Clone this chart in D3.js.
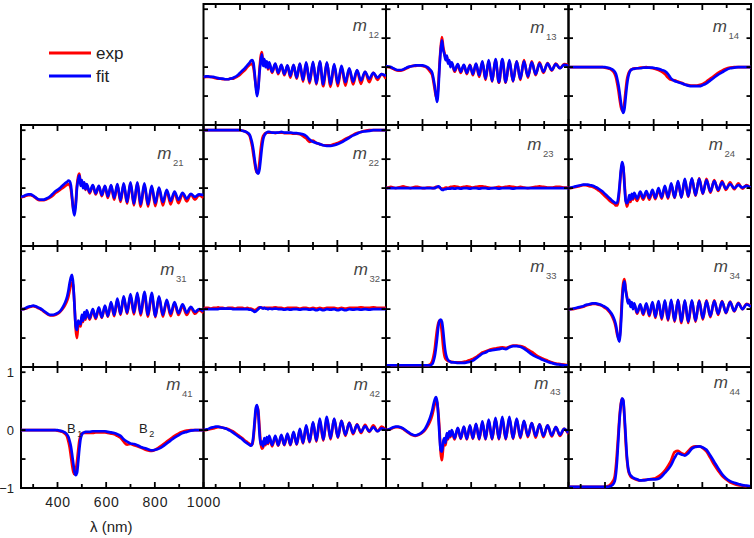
<!DOCTYPE html>
<html><head><meta charset="utf-8">
<script src="https://cdn.jsdelivr.net/npm/d3@7"></script>
<style>html,body{margin:0;padding:0;background:#fff;}svg{display:block;}</style>
</head><body>
<svg id="chart" width="754" height="538"></svg>
<script>
// ---------------- DATA ----------------
const wavelength = [250,260,270,280,290,300,310,320,330,340,350,360,370,380,390,400,410,420,430,440,
  445,450,455,460,465,470,475,480,485,490,495,500,505,510,515,520,
  532,545,557,570,582,595,607,620,633,646,659,672,686,700,714,728,742,757,772,787,802,817,833,849,865,881,897,914,931,948,965,982,1000];

const panelNames = ["12","13","14","21","22","23","24","31","32","33","34","41","42","43","44"];
const xTickMajor = [400,600,800,1000];
const xTickMinor = [300,500,700,900];
const yTickValues = [-1,-0.5,0,0.5,1];
const xTickLabels = [400,600,800,1000];
const yTickLabels = [-1,0,1];
const legendLabels = ["exp","fit"];

const m12Fit = [-0.17,-0.16,-0.16,-0.17,-0.17,-0.18,-0.19,-0.2,-0.2,-0.21,-0.21,-0.2,-0.19,-0.17,-0.14,-0.1,-0.06,-0.02,0.03,0.08,
  0.11,0.12,0.08,-0.1,-0.35,-0.5,-0.38,-0.1,0.1,0.22,0.02,0.14,0.0,0.1,-0.02,0.08,
  -0.08,0.06,-0.1,0.04,-0.12,0.03,-0.15,0.04,-0.18,0.06,-0.22,0.08,-0.25,0.09,-0.28,0.1,-0.3,0.08,-0.3,0.05,-0.28,0.02,-0.26,-0.02,-0.25,-0.05,-0.23,-0.08,-0.2,-0.1,-0.18,-0.12,-0.15];
const m12Exp = [-0.18,-0.17,-0.17,-0.17,-0.18,-0.19,-0.2,-0.2,-0.21,-0.21,-0.21,-0.2,-0.2,-0.18,-0.16,-0.13,-0.09,-0.05,0.0,0.04,
  0.06,0.05,0.0,-0.15,-0.32,-0.42,-0.35,-0.05,0.18,0.26,0.08,0.12,0.02,0.08,-0.04,0.06,
  -0.1,0.05,-0.12,0.03,-0.14,0.02,-0.18,0.03,-0.2,0.05,-0.25,0.06,-0.28,0.07,-0.3,0.08,-0.33,0.06,-0.34,0.03,-0.33,0.0,-0.32,-0.04,-0.3,-0.06,-0.29,-0.08,-0.26,-0.1,-0.22,-0.12,-0.2];

const m13Fit = [0.02,0.01,0.0,-0.02,-0.04,-0.05,-0.05,-0.04,-0.02,0.0,0.01,0.02,0.03,0.03,0.03,0.03,0.02,0.0,-0.04,-0.1,
  -0.2,-0.32,-0.48,-0.6,-0.4,0.0,0.3,0.46,0.3,0.22,0.12,0.2,0.06,0.12,0.0,0.08,
  -0.06,0.05,-0.08,0.04,-0.1,0.03,-0.12,0.06,-0.14,0.1,-0.2,0.12,-0.24,0.14,-0.26,0.14,-0.26,0.12,-0.24,0.1,-0.2,0.1,-0.16,0.08,-0.12,0.06,-0.08,0.06,-0.05,0.05,-0.02,0.04,0.02];
const m13Exp = [0.01,0.0,-0.01,-0.03,-0.05,-0.06,-0.06,-0.05,-0.03,-0.01,0.01,0.02,0.02,0.03,0.03,0.02,0.01,-0.02,-0.07,-0.14,
  -0.25,-0.38,-0.5,-0.52,-0.3,0.05,0.35,0.52,0.35,0.25,0.15,0.18,0.08,0.1,0.02,0.06,
  -0.08,0.04,-0.1,0.03,-0.12,0.04,-0.14,0.05,-0.17,0.08,-0.22,0.1,-0.25,0.12,-0.27,0.12,-0.27,0.1,-0.25,0.1,-0.22,0.12,-0.18,0.1,-0.14,0.08,-0.1,0.07,-0.06,0.06,-0.02,0.05,0.03];

const m14Fit = [0,0,0,0,0,0,0,0,0,0,0,0,0,0,0,0,-0.01,-0.02,-0.04,-0.08,
  -0.12,-0.2,-0.3,-0.44,-0.6,-0.72,-0.79,-0.72,-0.52,-0.32,-0.18,-0.1,-0.06,-0.04,-0.03,-0.03,
  -0.02,-0.02,-0.01,-0.01,-0.01,-0.01,-0.02,-0.03,-0.05,-0.07,-0.12,-0.2,-0.24,-0.26,-0.28,-0.3,-0.32,-0.33,-0.33,-0.33,-0.31,-0.28,-0.23,-0.18,-0.13,-0.09,-0.05,-0.02,-0.01,0,0,0,0];
const m14Exp = [0,0,0,0,0,0,0,0,0,0,0,0,0,0,0,-0.01,-0.02,-0.03,-0.06,-0.12,
  -0.18,-0.28,-0.4,-0.55,-0.68,-0.75,-0.74,-0.6,-0.4,-0.22,-0.13,-0.08,-0.05,-0.04,-0.03,-0.02,
  -0.02,-0.01,-0.01,0,-0.01,-0.02,-0.03,-0.05,-0.08,-0.12,-0.18,-0.22,-0.23,-0.25,-0.27,-0.3,-0.31,-0.32,-0.32,-0.31,-0.29,-0.25,-0.2,-0.15,-0.1,-0.06,-0.03,-0.01,0,0,0,0,0];

const m21Fit = [-0.15,-0.14,-0.12,-0.11,-0.11,-0.13,-0.16,-0.19,-0.2,-0.2,-0.19,-0.17,-0.14,-0.1,-0.06,-0.03,0.0,0.04,0.08,0.11,
  0.13,0.12,0.05,-0.15,-0.38,-0.47,-0.3,0.0,0.15,0.22,0.04,0.14,0.0,0.1,-0.02,0.07,
  -0.07,0.05,-0.09,0.04,-0.12,0.04,-0.14,0.05,-0.17,0.07,-0.21,0.08,-0.24,0.1,-0.27,0.1,-0.28,0.08,-0.28,0.04,-0.26,0.01,-0.24,-0.03,-0.22,-0.06,-0.2,-0.08,-0.18,-0.1,-0.15,-0.11,-0.12];
const m21Exp = [-0.16,-0.15,-0.13,-0.12,-0.12,-0.14,-0.17,-0.2,-0.21,-0.21,-0.2,-0.18,-0.16,-0.13,-0.09,-0.06,-0.03,0.0,0.03,0.06,
  0.07,0.05,-0.02,-0.2,-0.36,-0.4,-0.25,0.05,0.2,0.25,0.08,0.12,0.02,0.08,-0.03,0.05,
  -0.09,0.04,-0.11,0.03,-0.14,0.03,-0.17,0.04,-0.2,0.05,-0.24,0.06,-0.27,0.08,-0.3,0.08,-0.32,0.06,-0.32,0.02,-0.31,-0.01,-0.3,-0.05,-0.28,-0.08,-0.26,-0.1,-0.23,-0.11,-0.2,-0.12,-0.17];

const m22Fit = [1,1,1,1,1,1,1,1,1,1,1,1,1,1,1,1,0.99,0.98,0.96,0.92,
  0.86,0.78,0.66,0.5,0.36,0.27,0.25,0.32,0.5,0.7,0.84,0.91,0.94,0.96,0.97,0.97,
  0.96,0.96,0.96,0.97,0.96,0.96,0.96,0.95,0.95,0.94,0.93,0.9,0.84,0.8,0.78,0.76,0.74,0.73,0.73,0.74,0.76,0.79,0.83,0.87,0.91,0.94,0.97,0.98,0.99,1,1,1,1];
const m22Exp = [1,1,1,1,1,1,1,1,1,1,1,1,1,1,1,1,0.99,0.98,0.95,0.9,
  0.82,0.72,0.58,0.44,0.32,0.27,0.3,0.45,0.66,0.82,0.9,0.93,0.95,0.96,0.96,0.96,
  0.96,0.95,0.96,0.96,0.95,0.95,0.95,0.94,0.94,0.93,0.9,0.86,0.8,0.82,0.78,0.76,0.74,0.74,0.74,0.76,0.78,0.81,0.85,0.88,0.92,0.95,0.97,0.99,1,1,1,1,1];

const m23Fit = [0,0,0,0,0,0,0,0,0,0,0,0,0,0,0,0,0,0,0,0,
  0,0,0.01,0.02,0.03,0.02,-0.01,-0.03,-0.03,-0.02,-0.02,-0.01,-0.01,-0.01,-0.01,0,
  -0.01,0,-0.01,0,0,-0.01,0,0,-0.01,0,0,-0.01,0,0,-0.01,0,0,0,-0.01,0,0,0,0,0,0,0,0,0,0,0,0,0,0];
const m23Exp = [0,0.01,0.02,0.01,0,0.01,0.02,0.03,0.02,0.01,0,0.01,0.02,0.02,0.01,0,0,0.01,0.01,0,
  0,0.01,0.02,0.02,0.02,0.01,0,-0.01,-0.01,0,0.01,0.01,0,0.01,0.02,0.02,
  0.03,0.02,0.01,0.02,0.03,0.02,0.01,0.02,0.03,0.03,0.02,0.01,0,0.01,0.02,0.01,0.02,0.03,0.02,0.01,0.02,0.01,0,0.01,0.02,0.03,0.02,0.01,0.01,0.02,0.02,0.01,0.01];

const m24Fit = [0,0.01,0.02,0.03,0.04,0.05,0.06,0.06,0.06,0.05,0.04,0.02,0.0,-0.03,-0.06,-0.1,-0.14,-0.18,-0.22,-0.25,
  -0.26,-0.25,-0.15,0.05,0.3,0.45,0.38,0.05,-0.22,-0.26,-0.22,-0.12,-0.2,-0.1,-0.18,-0.08,
  -0.18,-0.06,-0.17,-0.05,-0.17,-0.03,-0.17,0.0,-0.16,0.04,-0.16,0.08,-0.16,0.12,-0.16,0.16,-0.14,0.17,-0.12,0.16,-0.09,0.14,-0.06,0.12,-0.03,0.1,-0.01,0.07,0.0,0.05,0.01,0.04,0.0];
const m24Exp = [0,0,0.01,0.02,0.03,0.04,0.05,0.05,0.04,0.03,0.02,0,-0.03,-0.06,-0.1,-0.14,-0.18,-0.22,-0.25,-0.28,
  -0.3,-0.3,-0.22,0.0,0.25,0.4,0.36,0.1,-0.2,-0.32,-0.26,-0.18,-0.24,-0.14,-0.2,-0.12,
  -0.22,-0.1,-0.2,-0.08,-0.2,-0.06,-0.19,-0.03,-0.18,0.01,-0.18,0.05,-0.17,0.1,-0.16,0.14,-0.15,0.16,-0.13,0.17,-0.1,0.16,-0.08,0.14,-0.05,0.12,-0.03,0.1,-0.02,0.08,-0.01,0.05,-0.01];

const m31Fit = [0,0,0.02,0.04,0.05,0.06,0.05,0.03,0.01,-0.02,-0.05,-0.08,-0.1,-0.1,-0.09,-0.07,-0.04,0.02,0.1,0.22,
  0.32,0.45,0.55,0.59,0.42,0.05,-0.3,-0.36,-0.2,-0.24,-0.26,-0.1,-0.2,-0.05,-0.16,-0.02,
  -0.16,0.0,-0.15,0.03,-0.14,0.06,-0.12,0.12,-0.1,0.18,-0.08,0.22,-0.06,0.26,-0.06,0.28,-0.08,0.3,-0.1,0.28,-0.12,0.22,-0.1,0.16,-0.08,0.12,-0.07,0.08,-0.06,0.04,-0.05,0.0,-0.04];
const m31Exp = [0,0,0.01,0.03,0.04,0.05,0.04,0.02,0,-0.03,-0.06,-0.09,-0.11,-0.11,-0.1,-0.08,-0.05,0.0,0.06,0.15,
  0.22,0.32,0.42,0.46,0.38,0.05,-0.35,-0.5,-0.3,-0.28,-0.3,-0.14,-0.22,-0.08,-0.18,-0.05,
  -0.18,-0.02,-0.17,0.01,-0.15,0.04,-0.13,0.1,-0.12,0.15,-0.1,0.2,-0.08,0.23,-0.09,0.25,-0.11,0.26,-0.13,0.24,-0.14,0.2,-0.13,0.14,-0.12,0.1,-0.1,0.05,-0.1,0.02,-0.08,-0.02,-0.07];

const m32Fit = [0,0,0,0,0,0,0,0.01,0.01,0.01,0.01,0.01,0,0,0,0,0,0,0,-0.01,
  -0.01,-0.02,-0.03,-0.05,-0.04,-0.02,0,0.02,0.03,0.02,0.01,0.02,0.01,0.01,0,0.01,
  0,0.01,0,0,-0.01,0,-0.01,0,0,-0.01,0,0,-0.01,0,-0.02,0,-0.02,0,-0.01,0,-0.02,0,-0.02,0,-0.01,0,-0.01,0,-0.01,0,0,0,0];
const m32Exp = [0.01,0.02,0.02,0.01,0.02,0.02,0.03,0.02,0.02,0.01,0.02,0.02,0.02,0.01,0.02,0.02,0.02,0.01,0.02,0.01,
  0.01,0,-0.01,-0.02,-0.01,0,0.02,0.03,0.03,0.02,0.02,0.02,0.02,0.02,0.02,0.02,
  0.02,0.03,0.02,0.02,0.01,0.02,0.02,0.02,0.02,0.01,0.02,0.02,0.01,0.02,0.01,0.02,0.01,0.02,0.02,0.02,0.01,0.02,0.01,0.02,0.02,0.02,0.03,0.02,0.02,0.03,0.02,0.02,0.02];

const m33Fit = [-0.97,-0.97,-0.97,-0.97,-0.97,-0.97,-0.97,-0.97,-0.97,-0.97,-0.97,-0.97,-0.97,-0.97,-0.97,-0.97,-0.97,-0.97,-0.97,-0.95,
  -0.9,-0.82,-0.68,-0.5,-0.3,-0.2,-0.18,-0.22,-0.38,-0.6,-0.76,-0.84,-0.88,-0.9,-0.91,-0.92,
  -0.92,-0.93,-0.93,-0.93,-0.92,-0.91,-0.89,-0.85,-0.81,-0.77,-0.75,-0.72,-0.71,-0.7,-0.69,-0.68,-0.69,-0.66,-0.64,-0.64,-0.65,-0.68,-0.73,-0.78,-0.82,-0.85,-0.88,-0.91,-0.93,-0.95,-0.96,-0.97,-0.97];
const m33Exp = [-0.97,-0.97,-0.97,-0.97,-0.97,-0.97,-0.97,-0.97,-0.97,-0.97,-0.97,-0.97,-0.97,-0.97,-0.97,-0.97,-0.97,-0.97,-0.96,-0.9,
  -0.82,-0.7,-0.52,-0.35,-0.24,-0.2,-0.25,-0.42,-0.65,-0.8,-0.86,-0.88,-0.9,-0.9,-0.91,-0.91,
  -0.92,-0.92,-0.92,-0.91,-0.9,-0.88,-0.86,-0.83,-0.79,-0.75,-0.73,-0.71,-0.69,-0.68,-0.67,-0.66,-0.67,-0.65,-0.63,-0.63,-0.64,-0.66,-0.7,-0.74,-0.79,-0.83,-0.86,-0.89,-0.92,-0.94,-0.95,-0.96,-0.97];

const m34Fit = [0.0,0.0,0.01,0.02,0.03,0.04,0.05,0.07,0.08,0.09,0.1,0.1,0.09,0.08,0.06,0.04,0.01,-0.04,-0.1,-0.2,
  -0.28,-0.4,-0.52,-0.56,-0.3,0.1,0.38,0.48,0.32,0.2,0.1,0.16,0.04,0.12,0.0,0.1,
  -0.06,0.08,-0.08,0.1,-0.1,0.12,-0.13,0.14,-0.16,0.15,-0.18,0.16,-0.2,0.16,-0.22,0.15,-0.22,0.15,-0.2,0.14,-0.16,0.14,-0.12,0.14,-0.08,0.13,-0.06,0.12,-0.03,0.1,0.0,0.08,0.04];
const m34Exp = [0.0,0.0,0.0,0.01,0.02,0.03,0.04,0.06,0.07,0.08,0.09,0.09,0.08,0.07,0.05,0.02,-0.01,-0.06,-0.13,-0.24,
  -0.33,-0.44,-0.5,-0.48,-0.2,0.2,0.45,0.52,0.35,0.22,0.12,0.14,0.06,0.1,0.02,0.08,
  -0.08,0.06,-0.1,0.08,-0.12,0.1,-0.15,0.12,-0.18,0.13,-0.2,0.14,-0.22,0.15,-0.24,0.14,-0.24,0.14,-0.22,0.15,-0.18,0.15,-0.14,0.15,-0.1,0.14,-0.07,0.13,-0.04,0.11,0.0,0.09,0.05];

const m41Fit = [0,0,0,0,0,0,0,0,0,0,0,0,0,0,0,0,-0.01,-0.02,-0.04,-0.08,
  -0.12,-0.19,-0.28,-0.42,-0.58,-0.72,-0.78,-0.74,-0.55,-0.32,-0.15,-0.08,-0.05,-0.04,-0.03,-0.03,
  -0.03,-0.02,-0.02,-0.02,-0.02,-0.02,-0.03,-0.04,-0.05,-0.07,-0.1,-0.16,-0.2,-0.23,-0.24,-0.26,-0.29,-0.31,-0.33,-0.35,-0.34,-0.32,-0.28,-0.23,-0.18,-0.13,-0.09,-0.05,-0.03,-0.01,0,0,0];
const m41Exp = [0,0,0,0,0,0,0,0,0,0,0,0,0,0,0,-0.01,-0.02,-0.03,-0.06,-0.12,
  -0.2,-0.3,-0.45,-0.6,-0.72,-0.76,-0.7,-0.55,-0.35,-0.18,-0.1,-0.06,-0.05,-0.05,-0.05,-0.05,
  -0.05,-0.05,-0.04,-0.04,-0.04,-0.04,-0.05,-0.06,-0.07,-0.1,-0.13,-0.2,-0.25,-0.24,-0.26,-0.28,-0.3,-0.33,-0.35,-0.36,-0.34,-0.3,-0.25,-0.2,-0.15,-0.1,-0.06,-0.03,-0.01,0,0,0,0];

const m42Fit = [0,0.01,0.02,0.04,0.05,0.06,0.06,0.05,0.04,0.03,0.01,-0.01,-0.04,-0.07,-0.1,-0.13,-0.16,-0.2,-0.23,-0.26,
  -0.27,-0.24,-0.1,0.15,0.38,0.43,0.3,-0.05,-0.25,-0.2,-0.28,-0.14,-0.24,-0.12,-0.22,-0.1,
  -0.26,-0.1,-0.26,-0.08,-0.25,-0.06,-0.25,-0.03,-0.24,0.02,-0.22,0.08,-0.2,0.14,-0.18,0.2,-0.16,0.23,-0.14,0.2,-0.12,0.16,-0.08,0.12,-0.05,0.09,-0.03,0.07,-0.02,0.05,-0.02,0.03,0.0];
const m42Exp = [0,0,0.01,0.02,0.03,0.04,0.05,0.05,0.04,0.03,0.02,0,-0.02,-0.05,-0.08,-0.11,-0.14,-0.18,-0.21,-0.24,
  -0.26,-0.25,-0.15,0.08,0.32,0.4,0.34,0.05,-0.22,-0.32,-0.3,-0.16,-0.26,-0.14,-0.24,-0.12,
  -0.28,-0.12,-0.27,-0.1,-0.26,-0.08,-0.26,-0.05,-0.25,0.0,-0.23,0.06,-0.21,0.12,-0.2,0.17,-0.18,0.2,-0.16,0.19,-0.13,0.16,-0.1,0.13,-0.07,0.1,-0.05,0.09,-0.03,0.08,-0.02,0.06,0.0];

const m43Fit = [0,0.01,0.03,0.05,0.06,0.06,0.05,0.03,0.0,-0.03,-0.06,-0.08,-0.09,-0.08,-0.06,-0.03,0.02,0.1,0.2,0.34,
  0.44,0.52,0.57,0.5,0.25,-0.1,-0.35,-0.37,-0.2,-0.14,-0.22,-0.05,-0.14,-0.02,-0.1,0.0,
  -0.14,0.04,-0.14,0.06,-0.15,0.08,-0.14,0.11,-0.15,0.15,-0.15,0.18,-0.15,0.21,-0.15,0.23,-0.15,0.23,-0.14,0.2,-0.12,0.16,-0.1,0.12,-0.1,0.1,-0.1,0.08,-0.09,0.05,-0.08,0.02,-0.05];
const m43Exp = [0,0.01,0.02,0.04,0.05,0.05,0.04,0.02,-0.01,-0.04,-0.07,-0.09,-0.1,-0.09,-0.07,-0.04,0.0,0.06,0.14,0.26,
  0.35,0.44,0.5,0.48,0.3,0.0,-0.4,-0.52,-0.3,-0.2,-0.26,-0.08,-0.16,-0.04,-0.12,-0.02,
  -0.16,0.03,-0.15,0.05,-0.16,0.07,-0.15,0.1,-0.16,0.13,-0.16,0.16,-0.16,0.19,-0.16,0.2,-0.16,0.2,-0.15,0.18,-0.14,0.15,-0.12,0.12,-0.13,0.1,-0.12,0.08,-0.11,0.05,-0.1,0.02,-0.07];

const m44Fit = [-0.98,-0.98,-0.98,-0.98,-0.98,-0.98,-0.98,-0.98,-0.98,-0.98,-0.98,-0.98,-0.98,-0.98,-0.98,-0.98,-0.98,-0.97,-0.95,-0.88,
  -0.75,-0.5,-0.15,0.2,0.42,0.55,0.52,0.25,-0.1,-0.45,-0.65,-0.74,-0.78,-0.8,-0.82,-0.83,
  -0.85,-0.87,-0.87,-0.86,-0.85,-0.85,-0.85,-0.84,-0.8,-0.74,-0.68,-0.6,-0.48,-0.4,-0.42,-0.44,-0.4,-0.32,-0.29,-0.28,-0.3,-0.34,-0.44,-0.55,-0.66,-0.76,-0.83,-0.88,-0.91,-0.93,-0.95,-0.96,-0.97];
const m44Exp = [-0.98,-0.98,-0.98,-0.98,-0.98,-0.98,-0.98,-0.98,-0.98,-0.98,-0.98,-0.98,-0.98,-0.98,-0.98,-0.98,-0.97,-0.95,-0.9,-0.8,
  -0.62,-0.35,-0.05,0.25,0.45,0.54,0.5,0.2,-0.2,-0.5,-0.68,-0.76,-0.8,-0.82,-0.83,-0.84,
  -0.86,-0.87,-0.86,-0.86,-0.85,-0.84,-0.83,-0.8,-0.76,-0.7,-0.62,-0.52,-0.38,-0.36,-0.4,-0.42,-0.36,-0.3,-0.28,-0.28,-0.31,-0.37,-0.48,-0.6,-0.7,-0.79,-0.85,-0.9,-0.93,-0.95,-0.96,-0.97,-0.98];

const seriesByPanel = {
  "12":[m12Exp,m12Fit],"13":[m13Exp,m13Fit],"14":[m14Exp,m14Fit],
  "21":[m21Exp,m21Fit],"22":[m22Exp,m22Fit],"23":[m23Exp,m23Fit],"24":[m24Exp,m24Fit],
  "31":[m31Exp,m31Fit],"32":[m32Exp,m32Fit],"33":[m33Exp,m33Fit],"34":[m34Exp,m34Fit],
  "41":[m41Exp,m41Fit],"42":[m42Exp,m42Fit],"43":[m43Exp,m43Fit],"44":[m44Exp,m44Fit]
};

// ---------------- LAYOUT / STYLE ----------------
const gridLeft = 21, gridTop = 4, cellW = 182.5, cellH = 121;
const colors = ["#ff0000","#0000ff"];
const FONT = "'Liberation Sans', Arial, sans-serif";
// label placement: [gap from panel right edge, baseline below panel top]
const labelPos = {"12":[7,27],"13":[12,29],"14":[12,28],"21":[20,34],"22":[7,34],"23":[15,25],"24":[16,25],
  "31":[17,29],"32":[6,29],"33":[12,26],"34":[11,26],"41":[11,23],"42":[6,23],"43":[8,21.5],"44":[11,21]};

const svg = d3.select("#chart");
const defs = svg.append("defs");
const gBorders = svg.append("g");
const gLines = svg.append("g");
const gTicks = svg.append("g").attr("stroke", "#000").attr("stroke-width", 1.8);
const gText = svg.append("g");

panelNames.forEach(name => {
  const r = +name[0] - 1, c = +name[1] - 1;
  const x0 = gridLeft + c * cellW, y0 = gridTop + r * cellH;
  const x1 = x0 + cellW, y1 = y0 + cellH;
  const x = d3.scaleLinear().domain([250, 1000]).range([x0, x1]);
  const y = d3.scaleLinear().domain([-1, 1.09]).range([y1, y0]);

  gBorders.append("rect").attr("x", x0).attr("y", y0).attr("width", cellW).attr("height", cellH)
    .attr("fill", "none").attr("stroke", "#000").attr("stroke-width", 2);

  defs.append("clipPath").attr("id", "clip" + name).append("rect")
    .attr("x", x0).attr("y", y0 - 1).attr("width", cellW).attr("height", cellH + 2);

  const line = d3.line().x((d, i) => x(wavelength[i])).y(d => y(d)).curve(d3.curveMonotoneX);
  seriesByPanel[name].forEach((vals, k) => {
    gLines.append("path").datum(vals).attr("d", line).attr("fill", "none")
      .attr("stroke", colors[k]).attr("stroke-width", 2.7).attr("stroke-linejoin", "round")
      .attr("clip-path", "url(#clip" + name + ")");
  });

  // inward ticks on all four sides
  const xt = xTickMajor.map(v => [v, 6]).concat(xTickMinor.map(v => [v, 4]));
  const gp = gTicks.append("g");
  gp.selectAll(null).data(xt).join("line")
    .attr("x1", d => x(d[0])).attr("x2", d => x(d[0])).attr("y1", y1).attr("y2", d => y1 - d[1]);
  gp.selectAll(null).data(xt).join("line")
    .attr("x1", d => x(d[0])).attr("x2", d => x(d[0])).attr("y1", y0).attr("y2", d => y0 + d[1]);
  gp.selectAll(null).data(yTickValues).join("line")
    .attr("x1", x0).attr("x2", x0 + 4.5).attr("y1", d => y(d)).attr("y2", d => y(d));
  gp.selectAll(null).data(yTickValues).join("line")
    .attr("x1", x1).attr("x2", x1 - 4.5).attr("y1", d => y(d)).attr("y2", d => y(d));

  const lp = labelPos[name];
  const t = gText.append("text").attr("x", x1 - lp[0]).attr("y", y0 + lp[1])
    .attr("text-anchor", "end").attr("font-family", FONT).attr("fill", "#444");
  t.append("tspan").attr("font-style", "italic").attr("font-size", 17).text("m");
  t.append("tspan").attr("font-size", 9.5).attr("dy", 6.5).attr("dx", 1.5).attr("fill", "#555").text(name);

  if (name === "41") {
    const xa = gText.append("g").attr("transform", "translate(0," + y1 + ")")
      .call(d3.axisBottom(x).tickValues(xTickLabels).tickSize(0).tickPadding(9).tickFormat(d3.format("d")));
    xa.select(".domain").remove();
    xa.selectAll("text").attr("font-family", FONT).attr("font-size", 14).attr("fill", "#222")
      .attr("letter-spacing", 0.8).attr("dy", "0.71em");
    const ya = gText.append("g").attr("transform", "translate(" + x0 + ",0)")
      .call(d3.axisLeft(y).tickValues(yTickLabels).tickSize(0).tickPadding(7).tickFormat(d3.format("d")));
    ya.select(".domain").remove();
    ya.selectAll("text").attr("font-family", FONT).attr("font-size", 13).attr("fill", "#222");

    const b1 = gText.append("text").attr("x", 67).attr("y", 432.5).attr("font-family", FONT).attr("fill", "#222");
    b1.append("tspan").attr("font-size", 13).text("B");
    b1.append("tspan").attr("font-size", 9).attr("dy", 4).attr("dx", 1.5).text("1");
    const b2 = gText.append("text").attr("x", 139).attr("y", 432.5).attr("font-family", FONT).attr("fill", "#222");
    b2.append("tspan").attr("font-size", 13).text("B");
    b2.append("tspan").attr("font-size", 9).attr("dy", 4).attr("dx", 1.5).text("2");

    gText.append("text").attr("x", (x0 + x1) / 2 - 1).attr("y", 532).attr("text-anchor", "middle")
      .attr("font-family", FONT).attr("font-size", 15).attr("fill", "#222").text("\u03bb (nm)");
  }
});

// legend (in the empty m11 cell)
legendLabels.forEach((lab, k) => {
  const ly = 53 + k * 23;
  gText.append("line").attr("x1", 49).attr("x2", 91).attr("y1", ly).attr("y2", ly)
    .attr("stroke", colors[k]).attr("stroke-width", 3);
  gText.append("text").attr("x", 96).attr("y", ly + 6).attr("font-family", FONT)
    .attr("font-size", 17).attr("fill", "#222").text(lab);
});
</script>
</body></html>
